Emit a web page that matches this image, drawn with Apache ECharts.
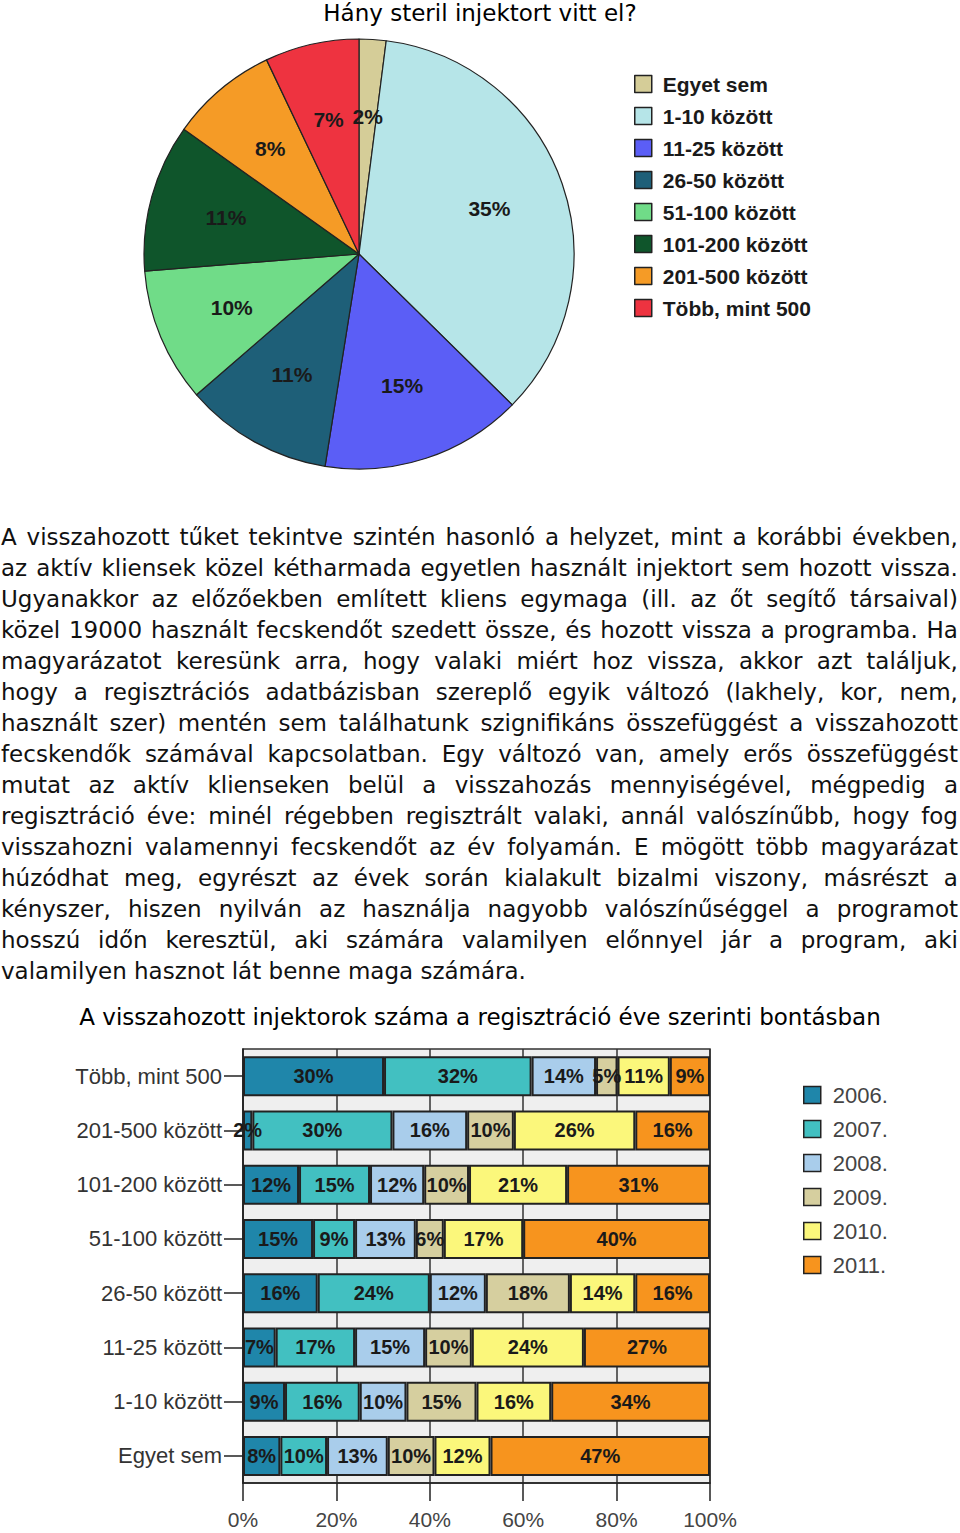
<!DOCTYPE html>
<html>
<head>
<meta charset="utf-8">
<script src="https://cdn.jsdelivr.net/npm/echarts@6/dist/echarts.min.js"></script>
<style>
html,body{margin:0;padding:0;background:#fff;}
#chart{position:absolute;left:0;top:0;width:960px;height:1533px;}
#para{position:absolute;left:1px;top:522px;width:957px;font-family:'DejaVu Sans',sans-serif;font-size:23px;line-height:31px;color:#111;}
.ln{display:flex;justify-content:space-between;white-space:nowrap;height:31px;}
.last{white-space:nowrap;height:31px;}
</style>
</head>
<body>
<div id="chart"></div>
<div id="para"></div>
<script>
// ---- data ----
const pieTitle = 'Hány steril injektort vitt el?';
const pieCategories = ['Egyet sem', '1-10 között', '11-25 között', '26-50 között', '51-100 között', '101-200 között', '201-500 között', 'Több, mint 500'];
const pieValues = [2, 35, 15, 11, 10, 11, 8, 7];
const pieColors = ['#d5cd98', '#b6e5e8', '#5b5ef6', '#1e5f78', '#70dc88', '#0f552b', '#f59b26', '#ee3340'];

const barTitle = 'A visszahozott injektorok száma a regisztráció éve szerinti bontásban';
const barCategories = ['Egyet sem', '1-10 között', '11-25 között', '26-50 között', '51-100 között', '101-200 között', '201-500 között', 'Több, mint 500'];
const years = ['2006.', '2007.', '2008.', '2009.', '2010.', '2011.'];
const v2006 = [8, 9, 7, 16, 15, 12.0, 2, 30.2];
const v2007 = [10, 16, 17, 24, 9, 15.2, 30, 31.6];
const v2008 = [13, 10, 15, 12, 13, 11.6, 16, 13.8];
const v2009 = [10, 15, 10, 18, 6, 9.6, 10, 4.6];
const v2010 = [12, 16, 24, 14, 17, 21.0, 26, 11.2];
const v2011 = [47, 34, 27, 16, 40, 30.6, 16, 8.6];
const barColors = ['#1f86aa', '#42c0c1', '#a9cdeb', '#d6cf9f', '#fbf77b', '#f7941e'];
const xTicks = [0, 20, 40, 60, 80, 100];

const paragraphLines = [
  'A visszahozott tűket tekintve szintén hasonló a helyzet, mint a korábbi években,',
  'az aktív kliensek közel kétharmada egyetlen használt injektort sem hozott vissza.',
  'Ugyanakkor az előzőekben említett kliens egymaga (ill. az őt segítő társaival)',
  'közel 19000 használt fecskendőt szedett össze, és hozott vissza a programba. Ha',
  'magyarázatot keresünk arra, hogy valaki miért hoz vissza, akkor azt találjuk,',
  'hogy a regisztrációs adatbázisban szereplő egyik változó (lakhely, kor, nem,',
  'használt szer) mentén sem találhatunk szignifikáns összefüggést a visszahozott',
  'fecskendők számával kapcsolatban. Egy változó van, amely erős összefüggést',
  'mutat az aktív klienseken belül a visszahozás mennyiségével, mégpedig a',
  'regisztráció éve: minél régebben regisztrált valaki, annál valószínűbb, hogy fog',
  'visszahozni valamennyi fecskendőt az év folyamán. E mögött több magyarázat',
  'húzódhat meg, egyrészt az évek során kialakult bizalmi viszony, másrészt a',
  'kényszer, hiszen nyilván az használja nagyobb valószínűséggel a programot',
  'hosszú időn keresztül, aki számára valamilyen előnnyel jár a program, aki',
  'valamilyen hasznot lát benne maga számára.'
];

// ---- paragraph (justified lines) ----
const para = document.getElementById('para');
paragraphLines.forEach((line, i) => {
  const d = document.createElement('div');
  if (i === paragraphLines.length - 1) {
    d.className = 'last';
    d.textContent = line;
  } else {
    d.className = 'ln';
    line.split(' ').forEach(w => {
      const s = document.createElement('span');
      s.textContent = w;
      d.appendChild(s);
    });
  }
  para.appendChild(d);
});

// ---- chart ----
const chart = echarts.init(document.getElementById('chart'), null, {renderer: 'svg'});
const yearValues = [v2006, v2007, v2008, v2009, v2010, v2011];
const pieData = pieCategories.map((n, i) => ({name: n, value: pieValues[i], itemStyle: {color: pieColors[i]}}));

const barSeries = years.map((y, i) => ({
  name: y,
  type: 'bar',
  stack: 'total',
  xAxisIndex: 0,
  yAxisIndex: 0,
  barWidth: 40,
  clip: true,
  data: yearValues[i],
  itemStyle: {color: barColors[i], borderColor: '#222', borderWidth: 2},
  label: {
    show: true,
    position: 'inside',
    formatter: p => Math.round(p.value) + '%',
    fontFamily: 'Liberation Sans',
    fontWeight: 'bold',
    fontSize: 20,
    color: '#1a1a1a'
  },
  emphasis: {disabled: true}
}));

const option = {
  backgroundColor: '#ffffff',
  animation: false,
  graphic: [
    {type: 'text', x: 480, y: 13, style: {text: pieTitle, fontFamily: 'DejaVu Sans', fontSize: 23, fill: '#000', textAlign: 'center', textVerticalAlign: 'middle'}},
    {type: 'text', x: 480, y: 1017, style: {text: barTitle, fontFamily: 'DejaVu Sans', fontSize: 23, fill: '#000', textAlign: 'center', textVerticalAlign: 'middle'}}
  ],
  legend: [
    {
      data: pieCategories,
      orient: 'vertical',
      left: 634,
      top: 73,
      padding: 0,
      itemWidth: 17,
      itemHeight: 17,
      itemGap: 10,
      icon: 'rect',
      selectedMode: false,
      itemStyle: {borderColor: '#222', borderWidth: 1.5},
      textStyle: {fontFamily: 'Liberation Sans', fontWeight: 'bold', fontSize: 21, lineHeight: 22, color: '#1a1a1a', padding: [0, 0, 0, 6]}
    },
    {
      data: years,
      orient: 'vertical',
      left: 803,
      top: 1084,
      padding: 0,
      itemWidth: 17,
      itemHeight: 17,
      itemGap: 12,
      icon: 'rect',
      selectedMode: false,
      itemStyle: {borderColor: '#222', borderWidth: 1.5},
      textStyle: {fontFamily: 'Liberation Sans', fontSize: 22, lineHeight: 22, color: '#444', padding: [0, 0, 0, 7]}
    }
  ],
  grid: {
    left: 243, top: 1049, width: 467, height: 434,
    show: true, backgroundColor: '#efefef', borderColor: '#333', borderWidth: 1.5,
    containLabel: false
  },
  xAxis: {
    type: 'value',
    min: xTicks[0],
    max: xTicks[xTicks.length - 1],
    interval: xTicks[1] - xTicks[0],
    axisLine: {show: true, lineStyle: {color: '#222', width: 1.5}},
    axisTick: {show: true, length: 18, lineStyle: {color: '#222', width: 1.5}},
    axisLabel: {formatter: '{value}%', fontFamily: 'Liberation Sans', fontSize: 21, color: '#444', margin: 26},
    splitLine: {show: true, lineStyle: {color: '#333', width: 1.5}}
  },
  yAxis: {
    type: 'category',
    data: barCategories,
    axisLine: {show: true, lineStyle: {color: '#222', width: 1.5}},
    axisTick: {show: true, alignWithLabel: true, length: 19, lineStyle: {color: '#222', width: 1.5}},
    axisLabel: {fontFamily: 'Liberation Sans', fontSize: 22, color: '#333', margin: 21}
  },
  series: [
    {
      name: 'pie',
      type: 'pie',
      center: [359, 254],
      radius: 215,
      startAngle: 90,
      clockwise: true,
      data: pieData,
      label: {show: false},
      labelLine: {show: false},
      itemStyle: {borderColor: '#222', borderWidth: 1.2},
      emphasis: {disabled: true}
    },
    {
      name: 'pieLabels',
      type: 'pie',
      center: [359, 254],
      radius: 270,
      startAngle: 90,
      clockwise: true,
      silent: true,
      z: 5,
      data: pieData.map(d => ({name: d.name, value: d.value})),
      itemStyle: {color: 'rgba(0,0,0,0)', borderWidth: 0},
      labelLine: {show: false},
      avoidLabelOverlap: false,
      label: {
        show: true,
        position: 'inside',
        formatter: '{c}%',
        fontFamily: 'Liberation Sans',
        fontWeight: 'bold',
        fontSize: 21,
        color: '#1a1a1a'
      },
      emphasis: {disabled: true}
    }
  ].concat(barSeries)
};
chart.setOption(option);
</script>
</body>
</html>
